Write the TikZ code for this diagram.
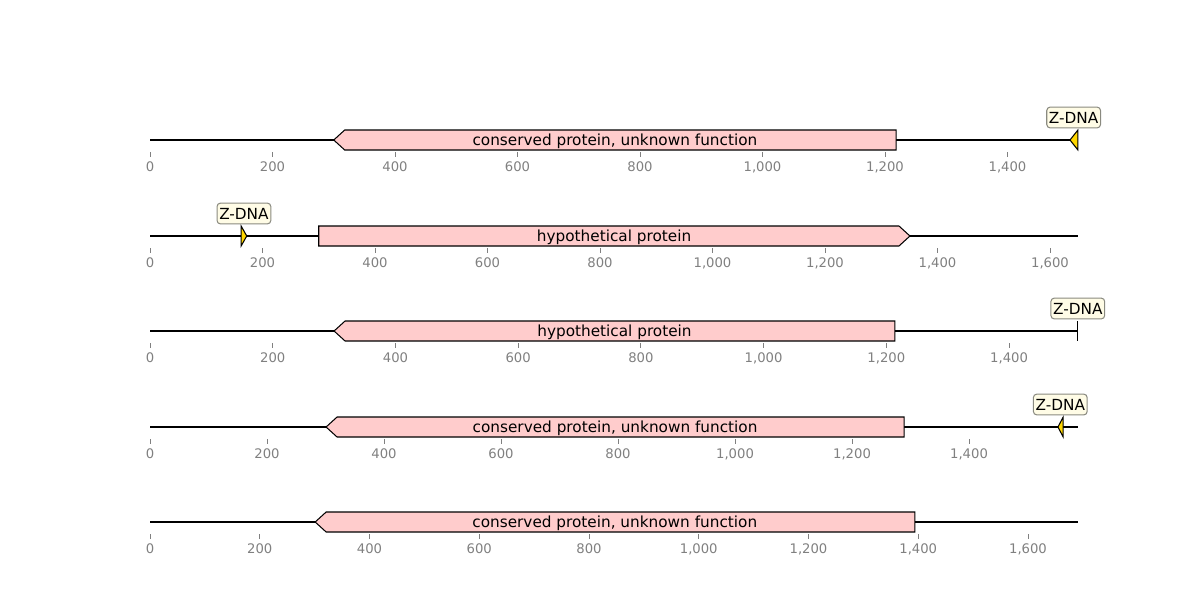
\documentclass[tikz,border=0pt]{standalone}
\usepackage{fontspec}
\setmainfont{DejaVu Sans}
\usetikzlibrary{calc}
\definecolor{genefill}{HTML}{FFCCCC}
\definecolor{zdnafill}{HTML}{FFD700}
\definecolor{boxfill}{HTML}{FFFCE6}
\definecolor{tickgray}{HTML}{808080}
\definecolor{boxedge}{HTML}{8A8A80}
\tikzset{
  backbone/.style={line width=1.4pt},
  gene/.style={draw, fill=genefill, line width=0.75pt, line join=miter},
  zdna/.style={draw, fill=zdnafill, line width=0.75pt},
  featlabel/.style={inner sep=0pt, yshift=-0.6pt, font=\fontsize{11}{13}\selectfont},
  zlabel/.style={draw=boxedge, fill=boxfill, rounded corners=2.5pt, inner xsep=1.6pt,
    minimum height=15pt, line width=0.75pt, font=\fontsize{11}{13}\selectfont},
  tickmark/.style={draw=tickgray, line width=0.6pt},
  ticklab/.style={text=tickgray, inner sep=0pt, font=\fontsize{9.5}{11}\selectfont},
}
\def\hl{7.9pt}
\begin{document}
\begin{tikzpicture}[x=0.72pt, y=-0.72pt]
  \useasboundingbox (0,0) rectangle (1200,600);
  % track 1
  \begin{scope}[shift={(150,140)}, x=0.441pt]
    \draw[backbone] (0,0) -- (1515,0);
    \draw[gene] (300,0) -- ++(\hl,7.2pt) -- (1218,-10) -- (1218,10) -- ($(300,10)+(\hl,0)$) -- cycle;
    \node[featlabel] (g1) at (759,0) {conserved protein, unknown function};
    \draw[zdna] (1502,0) -- (1515,-10) -- (1515,10) -- cycle;
    \node[zlabel] (z1) at (1508,-22.5) {Z-DNA};
    \foreach \t/\lab in {0/0,200/200,400/400,600/600,800/800,1000/{1,000},1200/{1,200},1400/{1,400}} {
      \draw[tickmark] (\t,12) -- (\t,17);
      \node[ticklab] (a1-\t) at (\t,27) {\lab};
    }
  \end{scope}
  % track 2
  \begin{scope}[shift={(150,236)}, x=0.405pt]
    \draw[backbone] (0,0) -- (1649,0);
    \draw[gene] (300,-10) -- ($(1351,-10)-(\hl,0)$) -- (1351,0) -- ($(1351,10)-(\hl,0)$) -- (300,10) -- cycle;
    \node[featlabel] (g2) at (825,0) {hypothetical protein};
    \draw[zdna] (162,-10) -- (172,0) -- (162,10) -- cycle;
    \node[zlabel] (z2) at (167,-22.5) {Z-DNA};
    \foreach \t/\lab in {0/0,200/200,400/400,600/600,800/800,1000/{1,000},1200/{1,200},1400/{1,400},1600/{1,600}} {
      \draw[tickmark] (\t,12) -- (\t,17);
      \node[ticklab] (a2-\t) at (\t,27) {\lab};
    }
  \end{scope}
  % track 3
  \begin{scope}[shift={(150,331)}, x=0.4418pt]
    \draw[backbone] (0,0) -- (1512,0);
    \draw[gene] (300,0) -- ++(\hl,7.2pt) -- (1214,-10) -- (1214,10) -- ($(300,10)+(\hl,0)$) -- cycle;
    \node[featlabel] (g3) at (757,0) {hypothetical protein};
    \draw[line width=0.75pt] (1512,-10) -- (1512,10);
    \node[zlabel] (z3) at (1512,-22.5) {Z-DNA};
    \foreach \t/\lab in {0/0,200/200,400/400,600/600,800/800,1000/{1,000},1200/{1,200},1400/{1,400}} {
      \draw[tickmark] (\t,12) -- (\t,17);
      \node[ticklab] (a3-\t) at (\t,27) {\lab};
    }
  \end{scope}
  % track 4
  \begin{scope}[shift={(150,427)}, x=0.4212pt]
    \draw[backbone] (0,0) -- (1586,0);
    \draw[gene] (301,0) -- ++(\hl,7.2pt) -- (1289,-10) -- (1289,10) -- ($(301,10)+(\hl,0)$) -- cycle;
    \node[featlabel] (g4) at (795,0) {conserved protein, unknown function};
    \draw[zdna] (1552,0) -- (1561,-10) -- (1561,10) -- cycle;
    \node[zlabel] (z4) at (1556,-22.5) {Z-DNA};
    \foreach \t/\lab in {0/0,200/200,400/400,600/600,800/800,1000/{1,000},1200/{1,200},1400/{1,400}} {
      \draw[tickmark] (\t,12) -- (\t,17);
      \node[ticklab] (a4-\t) at (\t,27) {\lab};
    }
  \end{scope}
  % track 5
  \begin{scope}[shift={(150,522)}, x=0.3951pt]
    \draw[backbone] (0,0) -- (1691,0);
    \draw[gene] (301,0) -- ++(\hl,7.2pt) -- (1394,-10) -- (1394,10) -- ($(301,10)+(\hl,0)$) -- cycle;
    \node[featlabel] (g5) at (847,0) {conserved protein, unknown function};
    \foreach \t/\lab in {0/0,200/200,400/400,600/600,800/800,1000/{1,000},1200/{1,200},1400/{1,400},1600/{1,600}} {
      \draw[tickmark] (\t,12) -- (\t,17);
      \node[ticklab] (a5-\t) at (\t,27) {\lab};
    }
  \end{scope}
\end{tikzpicture}
\end{document}
